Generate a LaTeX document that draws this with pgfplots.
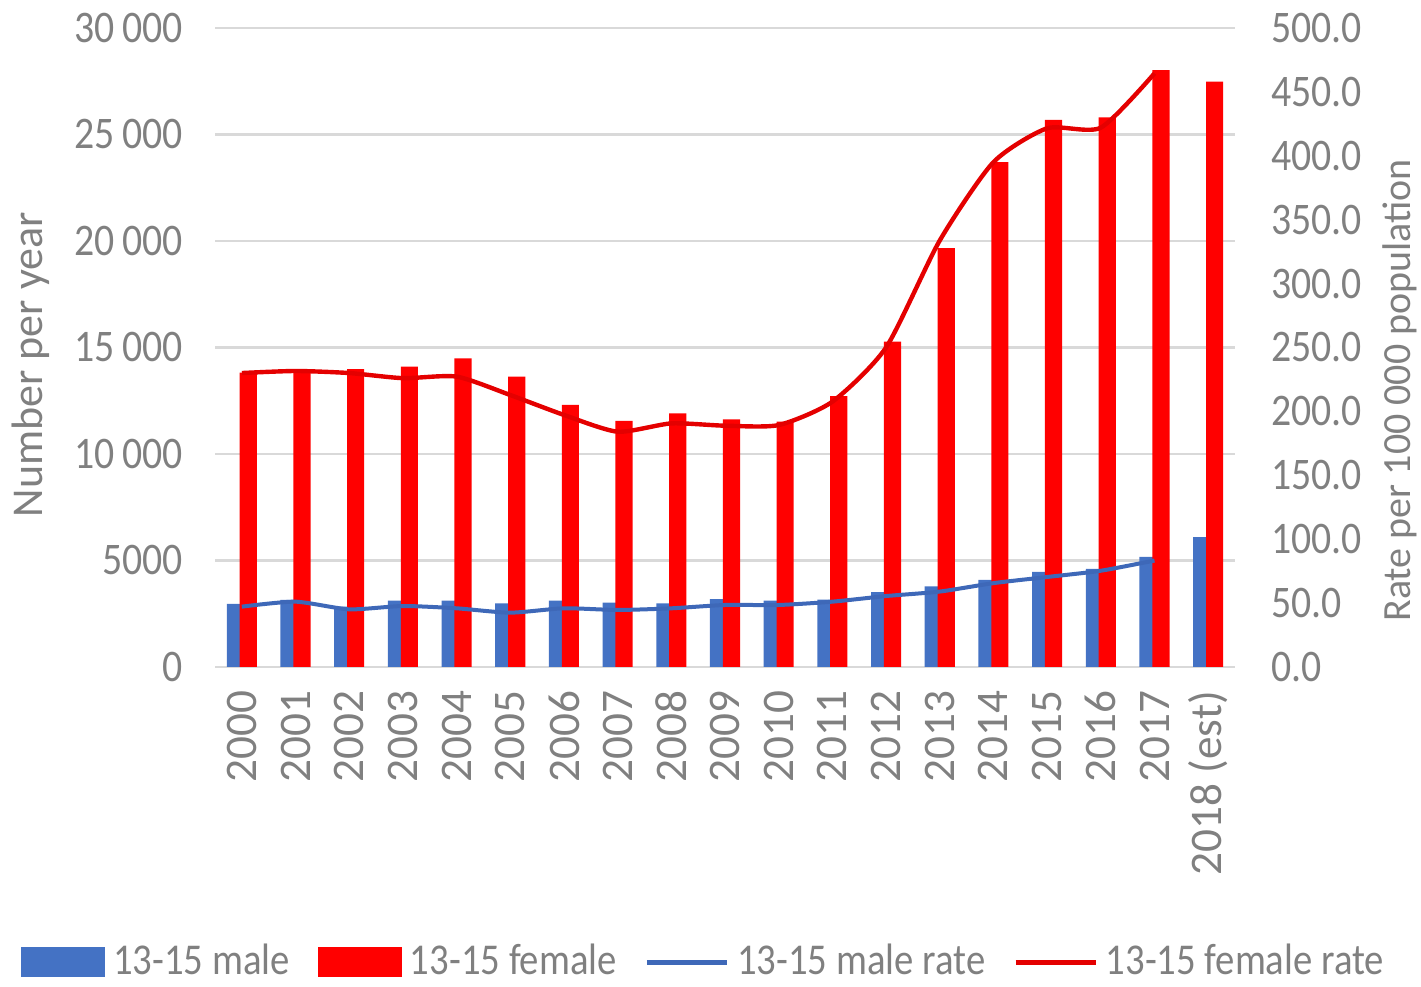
\documentclass[border=0pt]{standalone}
\usepackage{fontspec}
\setmainfont{Carlito}[FakeStretch=0.88]
\newfontfamily\plainf{Carlito}
\usepackage{pgfplots}
\usepackage{pgfplotstable}
\pgfplotsset{compat=1.18}
\definecolor{mblue}{HTML}{4472C4}
\definecolor{fred}{HTML}{FF0000}
\definecolor{frate}{HTML}{E40000}
\definecolor{mrate}{HTML}{3E68B8}
\definecolor{txt}{HTML}{808080}
\definecolor{gridc}{HTML}{D9D9D9}

\pgfplotstableread{
x male female
0 2960 13820
1 3150 13900
2 2830 13980
3 3110 14100
4 3110 14490
5 2990 13630
6 3110 12300
7 3020 11560
8 2990 11910
9 3180 11630
10 3110 11520
11 3160 12720
12 3520 15270
13 3780 19670
14 4090 23700
15 4470 25680
16 4610 25800
17 5170 28020
18 6100 27480
}\counts

\pgfplotstableread{
x mrate frate
0 47.2 230.0
1 51.1 231.6
2 45.1 230.0
3 47.7 226.0
4 45.9 227.2
5 42.5 212.8
6 45.9 197.2
7 44.6 184.1
8 45.9 190.6
9 48.5 188.8
10 48.5 189.3
11 51.1 207.6
12 55.5 250.0
13 59.0 333.7
14 65.6 395.0
15 70.4 421.5
16 75.3 422.0
17 83.3 464.5
}\rates

\begin{document}
\begin{tikzpicture}
\pgfplotsset{
  every tick label/.append style={font=\fontsize{11.3}{13}\selectfont, text=txt},
}
\begin{axis}[
  name=main,
  scale only axis,
  width=255pt, height=159.75pt,
  xmin=-0.5, xmax=18.5,
  ymin=0, ymax=30000,
  scaled y ticks=false,
  axis x line*=bottom,
  axis y line*=left,
  x axis line style={gridc, line width=0.7pt, -},
  y axis line style={draw=none},
  major tick length=0pt,
  ytick={0,5000,10000,15000,20000,25000,30000},
  yticklabels={0,5000,10\,000,15\,000,20\,000,25\,000,30\,000},
  yticklabel shift=4.5pt,
  xtick={0,...,18},
  xticklabels={2000,2001,2002,2003,2004,2005,2006,2007,2008,2009,2010,2011,2012,2013,2014,2015,2016,2017,2018 (est)},
  xticklabel style={rotate=90, anchor=east, font=\plainf\fontsize{11.3}{13}\selectfont},
  xticklabel shift=2.5pt,
  ymajorgrids,
  grid style={gridc, line width=0.7pt},
  ylabel={Number per year},
  every axis y label/.style={at={(rel axis cs:-0.181,0.473)}, rotate=90, anchor=center, font=\plainf\fontsize{11}{13}\selectfont, text=txt},
  legend columns=4,
  legend style={draw=none, fill=none, at={(0.482,-0.4075)}, anchor=north,
    font=\fontsize{11}{13}\selectfont, text=txt,
    /tikz/every even column/.append style={column sep=5pt},
    /tikz/every odd column/.append style={column sep=0pt}},
]
\addplot[ybar, bar width=0.32, bar shift=-0.12, fill=mblue, draw=none,
  legend image code/.code={\fill[mblue] (0pt,-3.75pt) rectangle (21pt,3.75pt);}]
  table[x=x, y=male]{\counts};
\addlegendentry{13-15 male}
\addplot[ybar, bar width=0.32, bar shift=0.12, fill=fred, draw=none,
  legend image code/.code={\fill[fred] (0pt,-3.75pt) rectangle (21pt,3.75pt);}]
  table[x=x, y=female]{\counts};
\addlegendentry{13-15 female}
\addlegendimage{legend image code/.code={\draw[mrate, line width=1.1pt] (0pt,0pt) -- (20pt,0pt);}}
\addlegendentry{13-15 male rate}
\addlegendimage{legend image code/.code={\draw[frate, line width=1.1pt] (0pt,0pt) -- (20pt,0pt);}}
\addlegendentry{13-15 female rate}
\end{axis}

\begin{axis}[
  scale only axis,
  width=255pt, height=159.75pt,
  xmin=-0.5, xmax=18.5,
  ymin=0, ymax=500,
  axis x line=none,
  axis y line*=right,
  y axis line style={draw=none},
  major tick length=0pt,
  ytick={0,50,...,500},
  yticklabel shift=5.5pt,
  /pgf/number format/assume math mode=true,
  yticklabel={\pgfmathprintnumber[fixed, fixed zerofill, precision=1, assume math mode=true]{\tick}},
  ylabel={Rate per 100 000 population},
  every axis y label/.style={at={(rel axis cs:1.162,0.433)}, rotate=90, anchor=center, font=\plainf\fontsize{10}{12}\selectfont, text=txt},
]
\addplot[mrate, line width=1pt, smooth, tension=0.4, mark=none] table[x=x, y=mrate]{\rates};
\addplot[frate, line width=1.1pt, smooth, tension=0.4, mark=none] table[x=x, y=frate]{\rates};
\end{axis}

\pgfresetboundingbox
\path[use as bounding box] ([shift={(-53.75pt,-80pt)}]main.south west) rectangle ([shift={(46.5pt,7pt)}]main.north east);
\end{tikzpicture}
\end{document}
